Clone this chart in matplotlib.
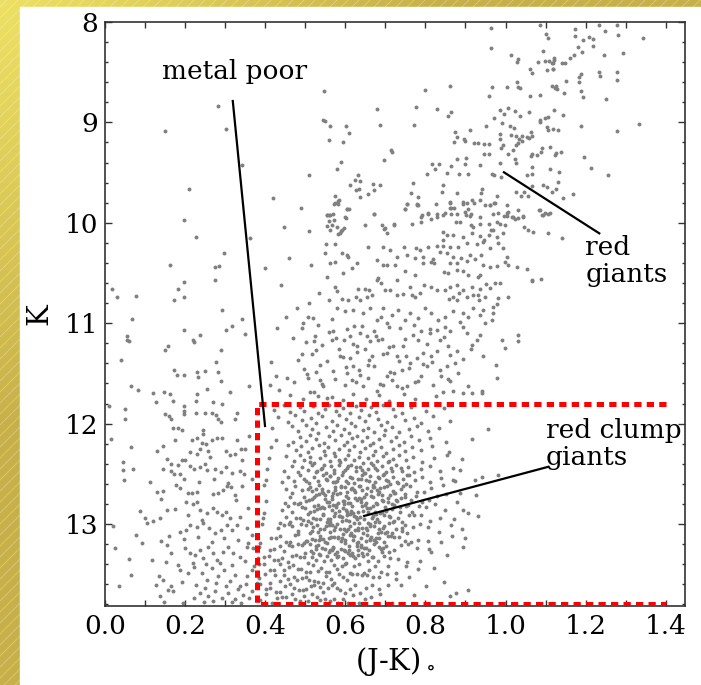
import numpy as np
import matplotlib.pyplot as plt
from matplotlib.patches import Rectangle
from matplotlib.ticker import MultipleLocator

# (J-K)o , K, grouped by region
rgb_upper = [
    (0.964, 8.06), (0.964, 8.26), (1.086, 8.03), (1.100, 8.12), (1.105, 8.16), (1.174, 8.07), (1.174, 8.14),
    (1.234, 8.03), (1.248, 8.09), (1.278, 8.03), (1.281, 8.13), (1.342, 8.16), (1.194, 8.18), (1.208, 8.15),
    (1.219, 8.17), (1.219, 8.24), (1.180, 8.25), (1.190, 8.30), (1.171, 8.33), (1.161, 8.36), (1.149, 8.41),
    (1.140, 8.41), (1.246, 8.33), (1.294, 8.31), (1.093, 8.29), (1.014, 8.33), (1.031, 8.37), (1.029, 8.40),
    (1.081, 8.40), (1.099, 8.39), (1.109, 8.39), (1.121, 8.36), (1.118, 8.41), (1.104, 8.48), (1.119, 8.47),
    (1.061, 8.47), (1.066, 8.51), (1.234, 8.50), (1.236, 8.54), (1.277, 8.50), (1.279, 8.58), (1.188, 8.52),
    (1.183, 8.55), (1.183, 8.60), (1.150, 8.59), (1.028, 8.60), (1.030, 8.65), (1.036, 8.66), (1.003, 8.65),
    (0.965, 8.65), (0.959, 8.74), (1.061, 8.74), (1.086, 8.73), (1.115, 8.64), (1.126, 8.64), (1.129, 8.67),
    (1.124, 8.66), (1.146, 8.71), (1.189, 8.69), (1.193, 8.75), (1.251, 8.77), (1.332, 9.02), (1.277, 9.09),
    (1.188, 9.04), (1.196, 9.34), (1.213, 9.45), (1.257, 9.52), (1.121, 8.38), (1.115, 8.41), (1.118, 8.47),
    (1.121, 8.88), (1.144, 8.93),
]

rgb_branch = [
    (1.024, 8.89), (1.036, 8.94), (1.058, 8.90), (0.986, 8.88), (1.007, 8.86), (0.995, 8.92), (0.972, 8.96),
    (0.990, 9.01), (0.950, 9.04), (1.086, 8.98), (1.099, 8.96), (1.107, 8.95), (1.086, 9.00), (1.107, 9.08),
    (1.119, 9.07), (1.132, 9.08), (1.104, 9.05), (0.985, 9.12), (0.986, 9.17), (0.993, 9.23), (0.989, 9.26),
    (1.010, 9.04), (1.020, 9.06), (1.013, 9.13), (1.026, 9.14), (1.040, 9.14), (1.034, 9.17), (1.032, 9.21),
    (1.025, 9.23), (1.042, 9.19), (1.054, 9.15), (1.059, 9.16), (1.067, 9.14), (1.064, 9.10), (1.090, 9.26),
    (1.088, 9.29), (1.079, 9.32), (1.067, 9.31), (1.064, 9.33), (1.111, 9.25), (1.126, 9.30), (1.124, 9.32),
    (1.139, 9.29), (1.019, 9.27), (1.024, 9.36), (1.026, 9.40), (1.005, 9.31), (0.986, 9.40), (0.967, 9.51),
    (0.972, 9.52), (0.989, 9.54), (1.111, 9.46), (1.134, 9.49), (1.094, 9.62), (1.103, 9.64), (1.115, 9.69),
    (1.126, 9.66), (1.132, 9.59), (1.143, 9.75), (1.168, 9.71), (1.065, 9.44), (1.053, 9.52), (1.065, 9.51),
    (1.026, 9.69), (1.039, 9.73), (1.045, 9.69), (1.057, 9.73), (1.067, 9.63), (1.084, 9.87), (1.090, 9.92),
    (1.099, 9.90), (1.111, 9.90), (1.018, 9.94), (1.032, 9.95), (1.044, 9.94), (1.003, 9.90), (0.996, 9.93),
    (0.945, 9.31), (0.959, 9.31), (0.920, 9.21), (0.932, 9.21), (0.945, 9.22), (0.959, 9.22), (0.911, 9.08),
    (0.874, 9.10), (0.880, 9.15), (0.872, 9.20), (0.896, 9.17), (0.900, 9.19), (0.857, 8.94), (0.865, 8.90),
    (0.862, 8.64), (0.830, 8.87), (0.799, 8.68), (0.777, 8.85), (0.772, 9.03), (0.680, 8.87), (0.687, 9.03),
    (0.713, 9.27), (0.716, 9.29), (0.697, 9.37), (0.547, 8.69), (0.545, 8.98), (0.549, 8.99), (0.562, 9.04),
    (0.601, 9.04), (0.610, 9.11), (0.559, 9.18), (0.595, 9.20), (0.509, 9.52), (0.588, 9.39), (0.578, 9.46),
]

rgb_mid = [
    (0.803, 9.51), (0.816, 9.41), (0.824, 9.46), (0.835, 9.41), (0.853, 9.50), (0.865, 9.43), (0.885, 9.51),
    (0.899, 9.41), (0.901, 9.35), (0.878, 9.36), (0.907, 9.51), (0.935, 9.42), (0.770, 9.60), (0.764, 9.70),
    (0.782, 9.74), (0.753, 9.81), (0.780, 9.81), (0.750, 9.86), (0.845, 9.62), (0.841, 9.69), (0.878, 9.70),
    (0.893, 9.79), (0.903, 9.80), (0.916, 9.77), (0.920, 9.80), (0.940, 9.66), (0.938, 9.70), (0.936, 9.77),
    (0.960, 9.82), (0.972, 9.80), (0.978, 9.73), (0.949, 9.82), (0.861, 9.79), (0.864, 9.85), (0.872, 9.85),
    (0.826, 9.81), (0.807, 9.90), (0.791, 9.92), (0.828, 9.94), (0.849, 9.90), (0.878, 9.91), (0.899, 9.89),
    (0.913, 9.91), (0.936, 9.94), (0.968, 9.91), (0.980, 9.90), (1.030, 9.87), (0.574, 9.80), (0.583, 9.77),
    (0.570, 9.91), (0.558, 9.92), (0.599, 9.94), (0.608, 9.86), (0.612, 9.62), (0.624, 9.57), (0.632, 9.52),
    (0.637, 9.58), (0.635, 9.66), (0.627, 9.67), (0.637, 9.74), (0.657, 9.71), (0.670, 9.61), (0.672, 9.67),
    (0.687, 9.62), (0.672, 9.91), (0.575, 9.73), (0.582, 9.78), (0.572, 9.81), (0.553, 9.92), (0.562, 9.92),
    (0.560, 9.98), (0.572, 9.97), (0.555, 10.03), (0.562, 10.07), (0.581, 10.11), (0.588, 10.08), (0.597, 10.05),
    (0.602, 9.95), (0.605, 9.86), (0.649, 10.02), (0.691, 10.02), (0.699, 10.05), (0.703, 10.10), (0.722, 10.01),
    (0.766, 10.01), (0.780, 9.82),
]

rgb_top10 = [
    (0.555, 9.92), (0.566, 10.02), (0.580, 10.04), (0.587, 10.10), (0.591, 10.07), (0.603, 9.86), (0.581, 9.81),
    (0.510, 10.08), (0.672, 9.91), (0.697, 10.06), (0.721, 10.02), (0.749, 9.86), (0.753, 9.81), (0.782, 9.82),
    (0.790, 9.99), (0.790, 9.94), (0.807, 9.91), (0.815, 9.96), (0.828, 9.91), (0.845, 9.92), (0.861, 9.85),
    (0.865, 9.91), (0.876, 9.99), (0.886, 9.99), (0.901, 9.92), (0.911, 9.93), (0.914, 10.02), (0.918, 10.04),
    (0.936, 10.01), (0.959, 10.01), (0.963, 10.07), (0.979, 9.99), (0.986, 10.01), (0.998, 10.02), (1.003, 9.93),
    (1.007, 9.89), (1.015, 9.94), (1.023, 9.96), (1.044, 9.93), (1.046, 10.04), (1.057, 10.07), (1.069, 10.09),
    (1.086, 9.87), (1.094, 9.92), (1.107, 9.91), (1.107, 10.10), (1.004, 9.82), (0.961, 9.82), (0.974, 9.80),
    (0.861, 9.80), (0.894, 9.81), (0.907, 9.86), (0.845, 10.09), (0.853, 10.12), (0.843, 10.17), (0.870, 10.12),
    (0.894, 10.14), (0.915, 10.10), (0.936, 10.13), (0.947, 10.17), (0.958, 10.12), (0.969, 10.07), (0.979, 10.14),
    (0.994, 10.10), (1.140, 10.15),
]

rgb_10 = [
    (0.552, 10.21), (0.574, 10.21), (0.549, 10.30), (0.562, 10.40), (0.574, 10.39), (0.591, 10.30), (0.603, 10.32),
    (0.606, 10.34), (0.630, 10.40), (0.616, 10.45), (0.593, 10.50), (0.555, 10.54), (0.514, 10.42), (0.574, 10.64),
    (0.580, 10.68), (0.560, 10.77), (0.591, 10.76), (0.607, 10.77), (0.627, 10.74), (0.632, 10.66), (0.649, 10.66),
    (0.660, 10.67), (0.682, 10.55), (0.678, 10.57), (0.695, 10.42), (0.703, 10.42), (0.724, 10.42), (0.728, 10.57),
    (0.749, 10.48), (0.774, 10.52), (0.795, 10.40), (0.815, 10.39), (0.822, 10.40), (0.847, 10.49), (0.857, 10.50),
    (0.878, 10.47), (0.894, 10.48), (0.907, 10.52), (0.932, 10.54), (0.936, 10.52), (0.944, 10.42), (0.961, 10.44),
    (0.978, 10.43), (0.998, 10.39), (1.007, 10.42), (1.028, 10.44), (1.053, 10.46), (1.065, 10.57), (1.088, 10.56),
    (0.986, 10.60), (0.974, 10.60), (0.951, 10.61), (0.936, 10.66), (0.919, 10.72), (0.903, 10.74), (0.884, 10.70),
    (0.870, 10.74), (0.860, 10.76), (0.878, 10.77), (0.828, 10.67), (0.815, 10.64), (0.797, 10.62), (0.786, 10.70),
    (0.775, 10.74), (0.766, 10.72), (0.761, 10.64), (0.745, 10.71), (0.728, 10.72), (0.711, 10.67), (0.699, 10.67),
    (0.688, 10.60), (0.666, 10.72), (0.653, 10.74), (0.637, 10.77), (0.657, 10.24), (0.693, 10.24), (0.678, 10.37),
    (0.747, 10.24), (0.776, 10.25), (0.786, 10.27), (0.807, 10.24), (0.828, 10.23), (0.843, 10.23), (0.861, 10.24),
    (0.882, 10.24), (0.903, 10.20), (0.928, 10.21), (0.944, 10.19), (0.961, 10.25), (0.982, 10.20), (0.994, 10.25),
    (1.003, 10.34), (0.939, 10.32), (0.911, 10.32), (0.890, 10.35), (0.870, 10.34), (0.853, 10.30), (0.836, 10.29),
    (0.820, 10.36), (0.795, 10.34), (0.774, 10.35), (0.753, 10.32), (0.728, 10.34), (0.711, 10.27), (0.861, 10.40),
    (0.878, 10.40), (0.903, 10.38), (0.924, 10.36), (0.878, 10.62), (0.861, 10.64), (0.850, 10.67), (0.894, 10.67),
    (0.915, 10.64), (0.932, 10.72), (0.961, 10.65), (0.982, 10.75), (1.007, 10.74), (0.979, 10.81), (0.968, 10.90),
    (0.934, 10.77), (0.949, 10.74), (1.067, 10.58),
]

rgb_lower = [
    (0.452, 10.94), (0.508, 10.94), (0.520, 10.95), (0.495, 11.00), (0.510, 10.80), (0.535, 10.70), (0.524, 11.13),
    (0.522, 11.18), (0.493, 11.31), (0.528, 11.27), (0.472, 11.59), (0.505, 11.51), (0.527, 11.49), (0.538, 11.57),
    (0.545, 11.63), (0.512, 11.69), (0.533, 11.73), (0.553, 11.75), (0.566, 10.96), (0.570, 11.08), (0.566, 11.17),
    (0.585, 11.26), (0.597, 11.17), (0.612, 11.13), (0.622, 11.03), (0.637, 11.10), (0.653, 11.13), (0.630, 11.23),
    (0.649, 11.26), (0.587, 11.33), (0.612, 11.35), (0.620, 11.43), (0.603, 11.50), (0.616, 11.57), (0.637, 11.52),
    (0.645, 11.63), (0.657, 11.42), (0.666, 11.33), (0.678, 10.97), (0.688, 10.94), (0.703, 11.00), (0.710, 11.04),
    (0.682, 11.17), (0.677, 11.13), (0.691, 11.16), (0.720, 11.23), (0.703, 11.30), (0.728, 11.33), (0.745, 11.23),
    (0.751, 11.33), (0.761, 11.40), (0.741, 11.47), (0.721, 11.50), (0.703, 11.53), (0.695, 11.62), (0.678, 11.68),
    (0.728, 11.63), (0.753, 11.63), (0.774, 11.59), (0.790, 11.53), (0.803, 11.43), (0.815, 11.33), (0.828, 11.28),
    (0.795, 11.30), (0.782, 11.17), (0.770, 11.12), (0.790, 11.08), (0.811, 11.10), (0.828, 11.07), (0.849, 11.04),
    (0.861, 11.08), (0.836, 11.17), (0.857, 11.23), (0.878, 11.28), (0.893, 11.36), (0.874, 11.40), (0.853, 11.43),
    (0.840, 11.53), (0.861, 11.58), (0.882, 11.50), (0.907, 11.63), (0.894, 11.70), (0.870, 11.68), (0.845, 11.69),
    (0.940, 11.68), (0.976, 11.42), (0.979, 11.55), (0.990, 11.17), (0.998, 11.25), (1.030, 11.12), (1.032, 11.18),
    (0.936, 11.12), (0.944, 11.33), (0.928, 11.17), (0.915, 11.22), (0.903, 11.10), (0.886, 10.99), (0.907, 10.94),
    (0.936, 10.92), (0.949, 11.00), (0.965, 10.97), (0.969, 10.84), (0.944, 10.87), (0.918, 10.85), (0.894, 10.90),
    (0.870, 10.88), (0.849, 10.94), (0.832, 10.97), (0.815, 10.90), (0.799, 10.85), (0.782, 10.95), (0.761, 10.90),
    (0.749, 10.97), (0.732, 10.87), (0.716, 10.92), (0.695, 10.85), (0.662, 10.85), (0.645, 10.90), (0.620, 10.87),
    (0.599, 10.88), (0.580, 10.85),
    (0.491, 11.05), (0.533, 11.02), (0.558, 11.09), (0.604, 11.06), (0.641, 11.03), (0.672, 11.08), (0.736, 11.05),
    (0.771, 11.02), (0.812, 11.06), (0.894, 11.04), (0.503, 11.19), (0.541, 11.22), (0.577, 11.15), (0.619, 11.21),
    (0.662, 11.18), (0.709, 11.24), (0.748, 11.16), (0.803, 11.21), (0.847, 11.14), (0.913, 11.26), (0.482, 11.37),
    (0.517, 11.31), (0.553, 11.38), (0.594, 11.34), (0.628, 11.29), (0.659, 11.37), (0.694, 11.31), (0.733, 11.38),
    (0.779, 11.35), (0.817, 11.39), (0.862, 11.32), (0.497, 11.46), (0.536, 11.42), (0.569, 11.48), (0.601, 11.44),
    (0.633, 11.47), (0.671, 11.43), (0.712, 11.49), (0.758, 11.45), (0.795, 11.41), (0.836, 11.47), (0.507, 11.55),
    (0.541, 11.61), (0.574, 11.56), (0.598, 11.62), (0.627, 11.59), (0.657, 11.55), (0.687, 11.61), (0.717, 11.57),
    (0.741, 11.65), (0.782, 11.58), (0.818, 11.62), (0.856, 11.56), (0.462, 11.72), (0.495, 11.76), (0.521, 11.69),
    (0.566, 11.74), (0.593, 11.77), (0.619, 11.71), (0.652, 11.76), (0.683, 11.72), (0.708, 11.78), (0.746, 11.71),
    (0.774, 11.76), (0.826, 11.73),
]

clump_a = [
    (0.423, 11.86), (0.446, 11.81), (0.461, 11.88), (0.487, 11.83), (0.498, 11.87), (0.519, 11.82), (0.533, 11.89),
    (0.549, 11.85), (0.558, 11.81), (0.577, 11.87), (0.593, 11.84), (0.611, 11.89), (0.626, 11.82), (0.639, 11.86),
    (0.663, 11.83), (0.676, 11.88), (0.694, 11.81), (0.718, 11.85), (0.741, 11.89), (0.763, 11.83), (0.801, 11.87),
    (0.846, 11.84),
    (0.431, 11.93), (0.457, 11.98), (0.474, 11.91), (0.492, 11.96), (0.514, 11.94), (0.527, 11.99), (0.542, 11.92),
    (0.566, 11.97), (0.584, 11.91), (0.601, 11.95), (0.615, 11.99), (0.633, 11.93), (0.648, 11.97), (0.659, 11.91),
    (0.682, 11.95), (0.705, 11.98), (0.723, 11.92), (0.749, 11.96), (0.772, 11.94), (0.788, 11.99), (0.818, 11.92),
    (0.861, 11.97),
    (0.418, 12.04), (0.466, 12.02), (0.481, 12.07), (0.503, 12.01), (0.517, 12.05), (0.531, 12.09), (0.552, 12.03),
    (0.569, 12.07), (0.578, 12.01), (0.596, 12.05), (0.608, 12.09), (0.624, 12.02), (0.643, 12.06), (0.657, 12.04),
    (0.671, 12.08), (0.688, 12.01), (0.699, 12.06), (0.716, 12.03), (0.734, 12.08), (0.758, 12.05), (0.779, 12.02),
    (0.807, 12.07), (0.834, 12.04),
    (0.426, 12.16), (0.469, 12.18), (0.488, 12.13), (0.501, 12.17), (0.512, 12.11), (0.528, 12.15), (0.546, 12.19),
    (0.559, 12.12), (0.573, 12.16), (0.589, 12.11), (0.603, 12.18), (0.617, 12.14), (0.629, 12.12), (0.641, 12.17),
    (0.654, 12.13), (0.668, 12.19), (0.684, 12.15), (0.697, 12.11), (0.713, 12.17), (0.727, 12.13), (0.746, 12.18),
    (0.763, 12.12), (0.784, 12.16), (0.812, 12.14), (0.851, 12.18),
    (0.414, 12.23), (0.458, 12.21), (0.476, 12.26), (0.489, 12.22), (0.506, 12.28), (0.518, 12.24), (0.534, 12.21),
    (0.547, 12.27), (0.556, 12.23), (0.571, 12.29), (0.584, 12.25), (0.597, 12.21), (0.609, 12.26), (0.622, 12.22),
    (0.636, 12.28), (0.648, 12.24), (0.661, 12.21), (0.673, 12.27), (0.689, 12.23), (0.702, 12.29), (0.718, 12.25),
    (0.733, 12.21), (0.748, 12.27), (0.767, 12.23), (0.789, 12.26), (0.816, 12.22), (0.859, 12.28),
    (0.409, 12.34), (0.452, 12.32), (0.471, 12.37), (0.486, 12.31), (0.497, 12.36), (0.511, 12.33), (0.523, 12.39),
    (0.538, 12.34), (0.549, 12.31), (0.561, 12.37), (0.574, 12.32), (0.586, 12.38), (0.598, 12.35), (0.607, 12.31),
    (0.621, 12.36), (0.633, 12.33), (0.644, 12.39), (0.656, 12.34), (0.668, 12.31), (0.679, 12.37), (0.693, 12.32),
    (0.706, 12.38), (0.719, 12.35), (0.735, 12.31), (0.751, 12.36), (0.769, 12.33), (0.792, 12.38), (0.821, 12.34),
    (0.853, 12.31),
]

clump_b = [
    (0.404, 12.45), (0.447, 12.47), (0.466, 12.42), (0.481, 12.48), (0.493, 12.43), (0.506, 12.46), (0.517, 12.41),
    (0.529, 12.47), (0.541, 12.44), (0.552, 12.49), (0.563, 12.42), (0.572, 12.46), (0.583, 12.41), (0.594, 12.48),
    (0.603, 12.44), (0.614, 12.41), (0.626, 12.47), (0.637, 12.43), (0.646, 12.49), (0.657, 12.45), (0.668, 12.41),
    (0.679, 12.46), (0.691, 12.42), (0.702, 12.48), (0.714, 12.44), (0.727, 12.41), (0.741, 12.47), (0.756, 12.43),
    (0.771, 12.48), (0.789, 12.45), (0.811, 12.42), (0.836, 12.47), (0.868, 12.44),
    (0.401, 12.56), (0.441, 12.58), (0.458, 12.53), (0.473, 12.57), (0.486, 12.51), (0.498, 12.55), (0.509, 12.59),
    (0.521, 12.53), (0.532, 12.57), (0.543, 12.51), (0.553, 12.56), (0.562, 12.52), (0.573, 12.58), (0.582, 12.54),
    (0.591, 12.51), (0.601, 12.57), (0.611, 12.53), (0.621, 12.59), (0.631, 12.55), (0.641, 12.51), (0.652, 12.56),
    (0.662, 12.52), (0.673, 12.58), (0.683, 12.54), (0.694, 12.51), (0.706, 12.57), (0.718, 12.53), (0.731, 12.59),
    (0.744, 12.55), (0.758, 12.51), (0.773, 12.56), (0.791, 12.53), (0.812, 12.58), (0.839, 12.54), (0.873, 12.57),
    (0.398, 12.61), (0.452, 12.65), (0.468, 12.69), (0.474, 12.62), (0.493, 12.66), (0.507, 12.65), (0.511, 12.63),
    (0.526, 12.65), (0.541, 12.68), (0.545, 12.69), (0.557, 12.67), (0.569, 12.69), (0.574, 12.63), (0.588, 12.62),
    (0.599, 12.63), (0.603, 12.68), (0.616, 12.64), (0.622, 12.66), (0.637, 12.62), (0.641, 12.66), (0.655, 12.64),
    (0.668, 12.63), (0.671, 12.63), (0.684, 12.68), (0.697, 12.63), (0.703, 12.62), (0.719, 12.67), (0.724, 12.69),
    (0.738, 12.65), (0.752, 12.60), (0.761, 12.62), (0.779, 12.68), (0.796, 12.68), (0.814, 12.64), (0.843, 12.61),
    (0.886, 12.69),
    (0.402, 12.77), (0.449, 12.79), (0.461, 12.73), (0.472, 12.79), (0.488, 12.79), (0.496, 12.73), (0.503, 12.77),
    (0.518, 12.75), (0.527, 12.71), (0.534, 12.70), (0.548, 12.75), (0.553, 12.78), (0.566, 12.72), (0.579, 12.70),
    (0.582, 12.79), (0.594, 12.77), (0.607, 12.74), (0.611, 12.79), (0.624, 12.74), (0.633, 12.74), (0.639, 12.75),
    (0.652, 12.79), (0.664, 12.72), (0.669, 12.73), (0.681, 12.70), (0.693, 12.77), (0.706, 12.78), (0.712, 12.71),
    (0.727, 12.76), (0.739, 12.74), (0.748, 12.70), (0.764, 12.76), (0.777, 12.72), (0.791, 12.78), (0.808, 12.76),
    (0.829, 12.72), (0.852, 12.70), (0.879, 12.78),
]

clump_c = [
    (0.397, 12.89), (0.443, 12.86), (0.458, 12.82), (0.466, 12.88), (0.481, 12.80), (0.492, 12.83), (0.499, 12.84),
    (0.512, 12.88), (0.521, 12.82), (0.529, 12.85), (0.541, 12.83), (0.547, 12.84), (0.559, 12.82), (0.568, 12.81),
    (0.576, 12.81), (0.583, 12.87), (0.596, 12.80), (0.601, 12.86), (0.613, 12.87), (0.619, 12.89), (0.631, 12.88),
    (0.642, 12.82), (0.648, 12.81), (0.661, 12.84), (0.673, 12.88), (0.678, 12.80), (0.691, 12.88), (0.702, 12.86),
    (0.716, 12.85), (0.722, 12.81), (0.737, 12.83), (0.751, 12.82), (0.766, 12.88), (0.783, 12.82), (0.801, 12.83),
    (0.823, 12.80), (0.848, 12.86), (0.893, 12.86),
    (0.394, 12.94), (0.438, 12.99), (0.452, 12.93), (0.463, 12.98), (0.477, 12.94), (0.486, 12.94), (0.494, 12.96),
    (0.507, 12.90), (0.514, 12.99), (0.526, 12.95), (0.537, 12.95), (0.543, 12.90), (0.556, 12.95), (0.562, 12.98),
    (0.571, 12.92), (0.587, 12.92), (0.592, 12.93), (0.604, 12.91), (0.609, 12.97), (0.621, 12.92), (0.628, 12.95),
    (0.636, 12.93), (0.647, 12.95), (0.656, 12.99), (0.667, 12.94), (0.676, 12.90), (0.684, 12.98), (0.697, 12.91),
    (0.709, 12.92), (0.718, 12.98), (0.731, 12.94), (0.742, 12.98), (0.758, 12.91), (0.772, 12.91), (0.789, 12.91),
    (0.811, 12.97), (0.837, 12.94), (0.871, 12.95),
    (0.391, 13.00), (0.433, 13.04), (0.446, 13.01), (0.459, 13.00), (0.468, 13.02), (0.481, 13.07), (0.489, 13.00),
    (0.502, 13.01), (0.511, 13.09), (0.519, 13.03), (0.532, 13.08), (0.538, 13.05), (0.551, 13.02), (0.558, 13.01),
    (0.566, 13.01), (0.579, 13.00), (0.586, 13.05), (0.597, 13.05), (0.606, 13.05), (0.614, 13.09), (0.623, 13.06),
    (0.632, 13.04), (0.641, 13.04), (0.653, 13.06), (0.661, 13.02), (0.672, 13.02), (0.682, 13.09), (0.693, 13.04),
    (0.704, 13.08), (0.717, 13.09), (0.726, 13.05), (0.741, 13.04), (0.753, 13.09), (0.769, 13.03), (0.786, 13.00),
    (0.807, 13.03), (0.833, 13.08), (0.864, 13.01),
    (0.386, 13.19), (0.414, 13.14), (0.428, 13.14), (0.437, 13.12), (0.451, 13.18), (0.463, 13.18), (0.474, 13.11),
    (0.483, 13.10), (0.497, 13.19), (0.503, 13.17), (0.516, 13.15), (0.524, 13.16), (0.535, 13.16), (0.543, 13.15),
    (0.554, 13.19), (0.563, 13.13), (0.571, 13.13), (0.582, 13.14), (0.591, 13.14), (0.599, 13.16), (0.612, 13.11),
    (0.618, 13.12), (0.631, 13.18), (0.639, 13.14), (0.651, 13.17), (0.662, 13.15), (0.671, 13.16), (0.684, 13.14),
    (0.696, 13.18), (0.707, 13.12), (0.721, 13.13), (0.734, 13.13), (0.748, 13.17), (0.763, 13.18), (0.782, 13.16),
    (0.806, 13.17), (0.838, 13.18),
]

clump_d = [
    (0.384, 13.23), (0.411, 13.26), (0.423, 13.25), (0.436, 13.22), (0.447, 13.27), (0.459, 13.21), (0.468, 13.22),
    (0.481, 13.20), (0.492, 13.21), (0.499, 13.29), (0.512, 13.20), (0.519, 13.29), (0.531, 13.21), (0.541, 13.24),
    (0.549, 13.25), (0.561, 13.26), (0.568, 13.24), (0.579, 13.28), (0.588, 13.25), (0.597, 13.26), (0.608, 13.26),
    (0.617, 13.29), (0.628, 13.22), (0.638, 13.23), (0.647, 13.24), (0.659, 13.26), (0.671, 13.20), (0.683, 13.23),
    (0.694, 13.24), (0.708, 13.28), (0.722, 13.26), (0.739, 13.21), (0.757, 13.20), (0.779, 13.24), (0.809, 13.25),
    (0.383, 13.34), (0.396, 13.33), (0.409, 13.32), (0.421, 13.36), (0.433, 13.36), (0.443, 13.34), (0.456, 13.38),
    (0.466, 13.32), (0.477, 13.31), (0.488, 13.33), (0.496, 13.33), (0.507, 13.39), (0.516, 13.33), (0.526, 13.36),
    (0.534, 13.30), (0.546, 13.37), (0.553, 13.32), (0.564, 13.36), (0.573, 13.30), (0.582, 13.32), (0.593, 13.34),
    (0.601, 13.39), (0.612, 13.31), (0.623, 13.34), (0.632, 13.31), (0.644, 13.32), (0.656, 13.37), (0.668, 13.33),
    (0.681, 13.37), (0.696, 13.32), (0.712, 13.34), (0.731, 13.35), (0.754, 13.38), (0.787, 13.37),
    (0.384, 13.40), (0.398, 13.40), (0.412, 13.46), (0.422, 13.46), (0.437, 13.40), (0.446, 13.46), (0.459, 13.43),
    (0.469, 13.41), (0.481, 13.45), (0.489, 13.45), (0.501, 13.48), (0.511, 13.48), (0.519, 13.41), (0.532, 13.47),
    (0.539, 13.44), (0.551, 13.48), (0.559, 13.48), (0.571, 13.41), (0.578, 13.45), (0.591, 13.42), (0.599, 13.40),
    (0.611, 13.49), (0.621, 13.42), (0.634, 13.40), (0.646, 13.49), (0.659, 13.46), (0.673, 13.42), (0.689, 13.48),
    (0.706, 13.42), (0.726, 13.49), (0.751, 13.42), (0.782, 13.45),
    (0.385, 13.54), (0.399, 13.50), (0.411, 13.59), (0.424, 13.51), (0.436, 13.57), (0.448, 13.51), (0.457, 13.55),
    (0.471, 13.53), (0.479, 13.56), (0.492, 13.54), (0.503, 13.53), (0.509, 13.56), (0.522, 13.57), (0.531, 13.58),
    (0.543, 13.59), (0.552, 13.52), (0.563, 13.55), (0.572, 13.59), (0.584, 13.50), (0.593, 13.53), (0.604, 13.56),
    (0.616, 13.50), (0.628, 13.50), (0.641, 13.51), (0.653, 13.51), (0.668, 13.53), (0.684, 13.53), (0.703, 13.50),
    (0.727, 13.55), (0.758, 13.53),
    (0.386, 13.60), (0.401, 13.65), (0.413, 13.64), (0.427, 13.68), (0.438, 13.68), (0.449, 13.62), (0.462, 13.60),
    (0.471, 13.64), (0.484, 13.66), (0.494, 13.66), (0.502, 13.65), (0.514, 13.62), (0.523, 13.61), (0.536, 13.63),
    (0.544, 13.68), (0.557, 13.64), (0.566, 13.61), (0.578, 13.64), (0.587, 13.66), (0.599, 13.69), (0.611, 13.65),
    (0.623, 13.61), (0.637, 13.69), (0.651, 13.64), (0.666, 13.61), (0.684, 13.65), (0.707, 13.61), (0.739, 13.61),
    (0.387, 13.76), (0.402, 13.70), (0.416, 13.79), (0.429, 13.74), (0.441, 13.73), (0.452, 13.73), (0.466, 13.70),
    (0.474, 13.75), (0.487, 13.77), (0.497, 13.72), (0.508, 13.77), (0.518, 13.70), (0.529, 13.73), (0.538, 13.76),
    (0.549, 13.75), (0.561, 13.77), (0.571, 13.75), (0.582, 13.79), (0.594, 13.75), (0.607, 13.79), (0.619, 13.71),
    (0.633, 13.79), (0.648, 13.75), (0.664, 13.73), (0.686, 13.70), (0.716, 13.79),
]

clump_core = [
    (0.512, 12.38), (0.547, 12.41), (0.583, 12.36), (0.626, 12.43), (0.664, 12.39), (0.708, 12.37), (0.739, 12.44),
    (0.527, 12.48), (0.561, 12.52), (0.598, 12.46), (0.617, 12.54), (0.648, 12.49), (0.681, 12.53), (0.716, 12.47),
    (0.753, 12.51), (0.503, 12.57), (0.534, 12.61), (0.568, 12.58), (0.589, 12.63), (0.607, 12.59), (0.633, 12.62),
    (0.659, 12.57), (0.687, 12.64), (0.712, 12.60), (0.744, 12.62), (0.518, 12.67), (0.549, 12.71), (0.573, 12.66),
    (0.602, 12.72), (0.624, 12.68), (0.646, 12.73), (0.663, 12.67), (0.692, 12.71), (0.721, 12.69), (0.748, 12.73),
    (0.509, 12.76), (0.531, 12.81), (0.558, 12.78), (0.577, 12.83), (0.596, 12.77), (0.616, 12.82), (0.638, 12.78),
    (0.655, 12.84), (0.677, 12.79), (0.699, 12.83), (0.728, 12.77), (0.756, 12.81), (0.521, 12.87), (0.544, 12.91),
    (0.566, 12.86), (0.584, 12.92), (0.603, 12.88), (0.626, 12.93), (0.644, 12.87), (0.668, 12.92), (0.686, 12.89),
    (0.711, 12.93), (0.737, 12.88), (0.507, 12.97), (0.529, 13.01), (0.553, 12.98), (0.574, 13.03), (0.592, 12.97),
    (0.611, 13.02), (0.633, 12.99), (0.652, 13.04), (0.673, 12.98), (0.697, 13.02), (0.722, 12.97), (0.749, 13.01),
    (0.516, 13.07), (0.538, 13.12), (0.561, 13.08), (0.581, 13.13), (0.602, 13.07), (0.621, 13.12), (0.643, 13.09),
    (0.664, 13.13), (0.688, 13.08), (0.714, 13.12), (0.741, 13.07), (0.504, 13.17), (0.527, 13.22), (0.548, 13.18),
    (0.569, 13.23), (0.589, 13.17), (0.609, 13.22), (0.629, 13.19), (0.651, 13.24), (0.676, 13.18), (0.702, 13.22),
    (0.514, 13.27), (0.536, 13.31), (0.558, 13.28), (0.578, 13.33), (0.598, 13.27), (0.619, 13.32), (0.641, 13.29),
    (0.666, 13.33), (0.691, 13.28),
    (0.539, 12.45), (0.571, 12.49), (0.606, 12.42), (0.641, 12.46), (0.673, 12.44), (0.697, 12.50), (0.552, 12.55),
    (0.579, 12.57), (0.639, 12.55), (0.669, 12.61), (0.702, 12.56), (0.729, 12.58), (0.541, 12.65), (0.586, 12.69),
    (0.613, 12.65), (0.652, 12.70), (0.679, 12.66), (0.706, 12.74), (0.523, 12.73), (0.566, 12.75), (0.607, 12.79),
    (0.629, 12.76), (0.668, 12.82), (0.691, 12.76), (0.717, 12.80), (0.536, 12.84), (0.573, 12.89), (0.594, 12.84),
    (0.612, 12.90), (0.657, 12.88), (0.678, 12.95), (0.702, 12.87), (0.519, 12.94), (0.562, 12.95), (0.601, 12.96),
    (0.621, 12.99), (0.662, 13.00), (0.683, 13.05), (0.708, 12.99), (0.546, 13.05), (0.571, 13.06), (0.593, 13.10),
    (0.632, 13.06), (0.653, 13.11), (0.677, 13.14), (0.699, 13.09), (0.537, 13.15), (0.558, 13.14), (0.598, 13.19),
    (0.618, 13.16), (0.639, 13.21), (0.661, 13.16), (0.688, 13.25), (0.526, 13.25), (0.567, 13.26), (0.607, 13.29),
    (0.632, 13.26), (0.654, 13.30),
]

clump_edge = [
    (0.982, 12.51), (0.941, 12.53), (0.926, 12.71), (0.932, 12.92), (0.907, 12.89), (0.907, 13.66), (0.893, 13.23),
    (0.957, 12.05), (0.916, 12.15), (0.941, 11.70), (0.916, 11.70), (0.891, 13.05), (0.899, 13.14), (0.876, 13.69),
    (0.861, 13.72), (0.891, 12.35), (0.886, 12.46), (0.870, 12.56), (0.924, 12.56), (0.853, 13.31), (0.821, 13.44),
    (0.846, 13.58), (0.802, 13.62), (0.772, 13.71), (0.814, 13.28), (0.866, 13.12),
]

dwarfs = [
    (0.011, 11.82), (0.050, 11.85), (0.150, 11.90), (0.161, 11.92), (0.164, 11.95), (0.196, 11.87), (0.196, 11.90),
    (0.227, 11.89), (0.250, 11.89), (0.266, 11.89), (0.277, 11.91), (0.283, 11.95), (0.290, 11.98), (0.329, 11.89),
    (0.324, 11.95), (0.169, 12.04), (0.181, 12.04), (0.191, 12.06), (0.244, 12.06), (0.245, 12.10), (0.216, 12.16),
    (0.229, 12.14), (0.241, 12.19), (0.252, 12.20), (0.266, 12.16), (0.279, 12.14), (0.291, 12.14), (0.175, 12.16),
    (0.144, 12.22), (0.064, 12.23), (0.329, 12.16), (0.339, 12.25), (0.350, 12.25), (0.237, 12.25), (0.258, 12.27),
    (0.229, 12.30), (0.302, 12.27), (0.312, 12.31), (0.324, 12.30), (0.191, 12.36), (0.200, 12.36), (0.181, 12.41),
    (0.166, 12.40), (0.154, 12.35), (0.164, 12.47), (0.146, 12.45), (0.172, 12.50), (0.187, 12.50), (0.212, 12.42),
    (0.222, 12.45), (0.237, 12.43), (0.250, 12.40), (0.255, 12.46), (0.275, 12.45), (0.289, 12.48), (0.302, 12.43),
    (0.316, 12.49), (0.337, 12.47), (0.348, 12.50), (0.044, 12.46), (0.047, 12.56), (0.071, 12.45), (0.044, 12.38),
    (0.129, 12.68), (0.146, 12.67), (0.140, 12.75), (0.177, 12.61), (0.187, 12.64), (0.206, 12.69), (0.216, 12.69),
    (0.229, 12.68), (0.202, 12.78), (0.270, 12.70), (0.283, 12.69), (0.295, 12.66), (0.304, 12.62), (0.314, 12.63),
    (0.327, 12.76), (0.325, 12.71), (0.219, 12.80), (0.229, 12.78), (0.237, 12.86), (0.255, 12.89), (0.269, 12.84),
    (0.279, 12.88), (0.291, 12.91), (0.302, 12.88), (0.312, 12.94), (0.100, 12.94), (0.104, 12.99), (0.121, 12.97),
    (0.137, 12.94), (0.154, 12.86), (0.077, 13.11), (0.186, 13.08), (0.202, 13.06), (0.212, 13.01), (0.229, 13.03),
    (0.245, 12.99), (0.260, 13.04), (0.275, 13.09), (0.289, 13.06), (0.304, 13.01), (0.316, 13.06), (0.329, 13.01),
    (0.354, 13.04), (0.366, 13.11), (0.025, 13.24), (0.141, 13.17), (0.154, 13.21), (0.164, 13.29), (0.200, 13.24),
    (0.212, 13.29), (0.225, 13.31), (0.237, 13.26), (0.245, 13.34), (0.258, 13.23), (0.270, 13.29), (0.280, 13.36),
    (0.294, 13.28), (0.308, 13.23), (0.320, 13.29), (0.337, 13.33), (0.354, 13.23), (0.370, 13.24), (0.064, 13.51),
    (0.136, 13.52), (0.146, 13.56), (0.164, 13.62), (0.187, 13.46), (0.206, 13.49), (0.222, 13.43), (0.241, 13.49),
    (0.254, 13.56), (0.266, 13.44), (0.283, 13.52), (0.297, 13.46), (0.312, 13.57), (0.325, 13.51), (0.337, 13.62),
    (0.354, 13.52), (0.366, 13.46), (0.379, 13.59), (0.137, 13.72), (0.169, 13.67), (0.221, 13.74), (0.237, 13.69),
    (0.258, 13.72), (0.275, 13.67), (0.291, 13.74), (0.308, 13.69), (0.325, 13.75), (0.345, 13.71), (0.360, 13.74),
    (0.161, 13.12), (0.198, 13.15), (0.233, 13.13), (0.266, 13.18), (0.297, 13.14), (0.331, 13.16), (0.358, 13.19),
    (0.152, 13.38), (0.181, 13.41), (0.219, 13.39), (0.252, 13.40), (0.288, 13.39), (0.318, 13.41), (0.349, 13.37),
    (0.371, 13.42), (0.127, 13.61), (0.158, 13.66), (0.193, 13.58), (0.228, 13.61), (0.249, 13.64), (0.276, 13.59),
    (0.302, 13.62), (0.331, 13.65), (0.352, 13.60), (0.368, 13.67), (0.147, 13.78), (0.194, 13.79), (0.247, 13.78),
    (0.269, 13.77), (0.318, 13.78), (0.339, 13.79), (0.176, 12.85), (0.208, 12.91), (0.243, 12.96), (0.337, 12.93),
    (0.358, 12.84), (0.198, 12.55), (0.234, 12.58), (0.271, 12.55), (0.306, 12.59), (0.343, 12.62), (0.367, 12.55),
    (0.211, 12.28), (0.262, 12.33), (0.341, 12.36), (0.359, 12.12), (0.118, 13.36), (0.092, 13.19), (0.087, 12.87),
    (0.112, 12.58), (0.131, 12.27), (0.020, 13.02), (0.060, 13.35), (0.035, 13.62), (0.015, 12.15), (0.050, 11.95),
]

field = [
    (0.283, 8.84), (0.302, 9.07), (0.151, 9.09), (0.210, 9.66), (0.343, 9.42), (0.198, 9.97), (0.227, 10.14),
    (0.298, 10.30), (0.162, 10.42), (0.275, 10.44), (0.285, 10.43), (0.275, 10.57), (0.196, 10.59), (0.183, 10.66),
    (0.172, 10.77), (0.196, 10.74), (0.017, 10.66), (0.029, 10.74), (0.077, 10.73), (0.067, 10.96), (0.291, 10.87),
    (0.302, 11.07), (0.316, 11.03), (0.341, 10.96), (0.350, 11.11), (0.362, 10.15), (0.447, 10.04), (0.414, 11.39),
    (0.427, 11.53), (0.435, 11.67), (0.196, 11.07), (0.219, 11.17), (0.221, 11.19), (0.236, 11.12), (0.158, 11.23),
    (0.150, 11.27), (0.054, 11.13), (0.061, 11.18), (0.289, 11.27), (0.277, 11.39), (0.283, 11.49), (0.250, 11.48),
    (0.229, 11.49), (0.233, 11.54), (0.172, 11.47), (0.179, 11.52), (0.197, 11.52), (0.255, 11.66), (0.289, 11.58),
    (0.312, 11.69), (0.360, 11.63), (0.064, 11.63), (0.083, 11.67), (0.121, 11.70), (0.147, 11.69), (0.162, 11.71),
    (0.127, 11.79), (0.171, 11.78), (0.196, 11.82), (0.229, 11.71), (0.227, 11.78), (0.269, 11.79), (0.291, 11.80),
    (0.420, 9.75), (0.460, 10.35), (0.440, 10.62), (0.480, 10.85), (0.400, 10.45), (0.470, 11.15), (0.430, 11.05),
    (0.455, 11.55), (0.412, 11.62), (0.490, 9.85), (0.040, 11.37), (0.055, 11.17),
]

groups = [rgb_upper, rgb_branch, rgb_mid, rgb_top10, rgb_10, rgb_lower,
          clump_a, clump_b, clump_c, clump_d, clump_core, clump_edge, dwarfs, field]
pts = np.array([p for g in groups for p in g])

# selection box (red dashed) and annotation lines
box_x = [1.40, 0.379, 0.379, 1.40]
box_k = [11.808, 11.808, 13.80, 13.80]

labels = ['metal poor', 'red\ngiants', 'red clump\ngiants']
# anchor = baseline of the last line of each label
label_xy = [(0.142, 8.57), (1.199, 10.59), (1.101, 12.41)]
pointer_x = [(0.319, 0.3995), (0.996, 1.234), (0.647, 1.107)]
pointer_k = [(8.787, 12.024), (9.497, 10.105), (12.92, 12.43)]

plt.rcParams['font.family'] = 'DejaVu Serif'
plt.rcParams['mathtext.fontset'] = 'dejavuserif'

fig = plt.figure(figsize=(7.01, 6.85), dpi=100)

# yellow striped frame on the left and top
bg = fig.add_axes([0, 0, 1, 1], zorder=-10)
bg.set_xlim(0, 701)
bg.set_ylim(0, 685)
bg.axis('off')
gy, gx = np.mgrid[0:685, 0:701]
d = np.clip(np.hypot(gx / 701.0, (685 - gy) / 685.0) * 1.6, 0, 1)[..., None]
c0 = np.array([237, 225, 99]) / 255.0
c1 = np.array([200, 176, 72]) / 255.0
bg.imshow(c0 * (1 - d) + c1 * d, origin='lower', extent=(0, 701, 0, 685), aspect='auto')
for c in range(-700, 701, 11):
    bg.plot([c, c + 685], [0, 685], color='white', alpha=0.3, lw=0.6)
bg.add_patch(Rectangle((20, 0), 681, 678, color='white', zorder=5))

ax = fig.add_axes([105 / 701, 1 - 606 / 685, 580 / 701, 584 / 685])
ax.scatter(pts[:, 0], pts[:, 1], s=8, c='#808080', linewidths=0, zorder=2)

ax.plot(box_x, box_k, color='red', lw=3.6, linestyle=(0, (1.45, 1.05)),
        dash_capstyle='butt', zorder=3)
for px, pk in zip(pointer_x, pointer_k):
    ax.plot(px, pk, color='black', lw=1.6, zorder=4)
for t, (tx, tk) in zip(labels, label_xy):
    ax.text(tx, tk, t, fontsize=19, ha='left', va='baseline', zorder=5,
            linespacing=1.1)

ax.set_xlim(0, 1.448)
ax.set_ylim(13.817, 8.0)
ax.set_xticks(np.arange(0, 1.41, 0.2))
ax.set_xticklabels(['%.1f' % v for v in np.arange(0, 1.41, 0.2)])
ax.xaxis.set_minor_locator(MultipleLocator(0.1))
ax.set_yticks([8, 9, 10, 11, 12, 13])
ax.yaxis.set_minor_locator(MultipleLocator(0.2))

ax.tick_params(which='both', direction='in', top=True, right=True, color='#333333', width=1)
ax.tick_params(axis='x', which='both', length=4.5, labelsize=19, pad=6)
ax.tick_params(axis='y', which='major', length=5, labelsize=19, pad=5)
ax.tick_params(axis='y', which='minor', length=2.5)
for sp in ax.spines.values():
    sp.set_color('#333333')
    sp.set_linewidth(1.2)

ax.set_xlabel(r'(J-K)$_\circ$', fontsize=21, labelpad=4)
ax.set_ylabel('K', fontsize=21, labelpad=8)

fig.savefig('out.png', dpi=100)
